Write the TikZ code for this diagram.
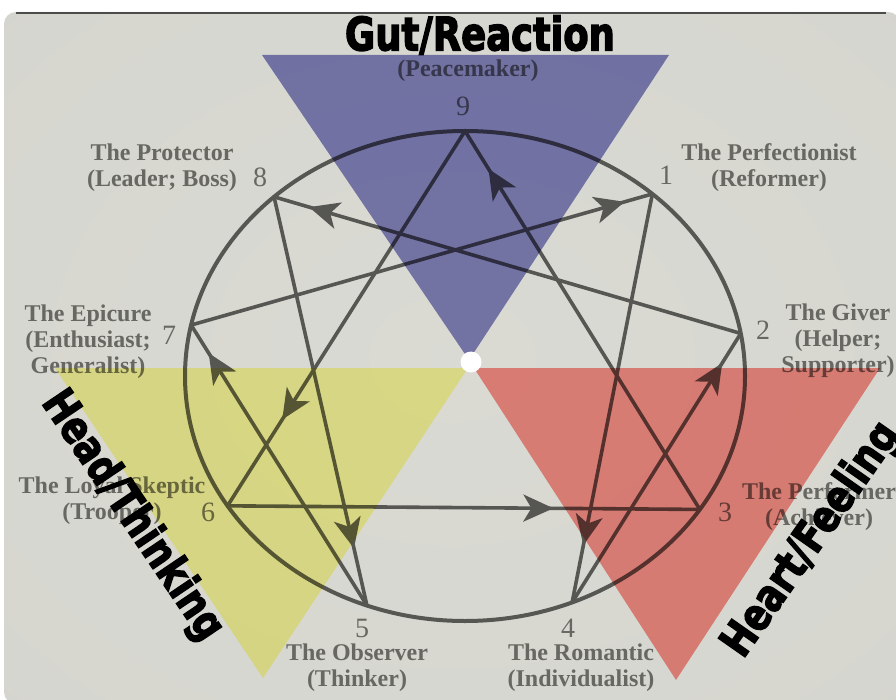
\documentclass[tikz,border=0pt]{standalone}
\usepackage{fontspec}
\setmainfont{Liberation Serif}
\newfontfamily\heavyfont{DejaVu Sans Condensed Bold}[FakeBold=3]
\usetikzlibrary{arrows.meta,decorations.markings}
\definecolor{txt}{RGB}{104,104,98}
\definecolor{ln}{RGB}{86,86,82}
\definecolor{bluec}{RGB}{134,134,198}
\definecolor{yelc}{RGB}{253,252,160}
\definecolor{redc}{RGB}{253,146,140}
\pgfdeclareradialshading{vig}{\pgfpoint{0bp}{0bp}}{rgb(0bp)=(0.855,0.855,0.83); rgb(34bp)=(0.84,0.84,0.815); rgb(44bp)=(0.79,0.78,0.76); rgb(49bp)=(0.70,0.68,0.66); rgb(53bp)=(0.60,0.58,0.56); rgb(71bp)=(0.45,0.43,0.41)}
\begin{document}
\begin{tikzpicture}[x=1pt,y=-1pt,
  lbl/.style={text=txt,font=\fontsize{24}{26}\selectfont\bfseries,align=center,inner sep=0pt},
  num/.style={text=txt,font=\fontsize{28}{28}\selectfont,inner sep=0pt},
  ring/.style={draw=ln,line width=4pt},
  hexln/.style={ln,line width=3.6pt,line cap=round},
  arr/.style={postaction={decorate},decoration={markings,mark=at position #1 with {\arrow{Stealth[length=30pt,width=27pt,inset=8pt]}}}},
  big/.style={inner sep=0pt,text=black},
  tri/.style={blend mode=multiply}]
\useasboundingbox (0,0) rectangle (896,700);
\fill[white] (0,0) rectangle (896,700);
\shade[shading=vig,rounded corners=12pt] (4,12) rectangle (900,704);
\draw[line width=2.5pt,color=black!70] (16,13) -- (886,13);

% labels
\node[lbl] (l8) at (162,168) {The Protector\\(Leader; Boss)};
\node[lbl] (l7) at (88,342) {The Epicure\\(Enthusiast;\\Generalist)};
\node[lbl] (l1) at (769,168) {The Perfectionist\\(Reformer)};
\node[lbl] (l2) at (838,341) {The Giver\\(Helper;\\Supporter)};
\node[lbl] (l6) at (112,501) {The Loyal Skeptic\\(Trooper)};
\node[lbl] (l3) at (819,507) {The Performer\\(Achiever)};
\node[lbl] (l5) at (357,668) {The Observer\\(Thinker)};
\node[lbl] (l4) at (581,668) {The Romantic\\(Individualist)};
\node[lbl] (l9) at (468,71) {(Peacemaker)};

\node[num] (n9) at (463,106) {9};
\node[num] (n1) at (666,175) {1};
\node[num] (n2) at (763,330) {2};
\node[num] (n3) at (725,512) {3};
\node[num] (n4) at (568,628) {4};
\node[num] (n5) at (362,628) {5};
\node[num] (n6) at (208,512) {6};
\node[num] (n7) at (169,335) {7};
\node[num] (n8) at (260,177) {8};

% points
\coordinate (p9) at (465,131);
\coordinate (p1) at ({465+280*sin(42)},{376-245*cos(42)});
\coordinate (p2) at ({465+280*sin(80)},{376-245*cos(80)});
\coordinate (p3) at ({465+280*sin(123)},{376-245*cos(123)});
\coordinate (p4) at ({465+280*sin(157.5)},{376-245*cos(157.5)});
\coordinate (p5) at ({465+280*sin(200.5)},{376-245*cos(200.5)});
\coordinate (p6) at ({465+280*sin(238)},{376-245*cos(238)});
\coordinate (p7) at ({465+280*sin(282)},{376-245*cos(282)});
\coordinate (p8) at ({465+280*sin(317)},{376-245*cos(317)});

\draw[ring] (465,376) ellipse [x radius=280pt, y radius=245pt];

\draw[hexln,arr=0.86] (p1) -- (p4);
\draw[hexln,arr=0.89] (p4) -- (p2);
\draw[hexln,arr=0.925] (p2) -- (p8);
\draw[hexln,arr=0.86] (p8) -- (p5);
\draw[hexln,arr=0.9] (p5) -- (p7);
\draw[hexln,arr=0.94] (p7) -- (p1);
\draw[hexln,arr=0.77] (p9) -- (p6);
\draw[hexln,arr=0.69] (p6) -- (p3);
\draw[hexln,arr=0.9] (p3) -- (p9);

% centres
\fill[bluec,tri] (262,55) -- (669,55) -- (469,360) -- cycle;
\fill[yelc,tri] (55,368) -- (468,368) -- (263,678) -- cycle;
\fill[redc,tri] (474,368) -- (880,368) -- (676,680) -- cycle;
\node[circle,fill=white,minimum size=21pt,inner sep=0pt] (dot) at (471,362) {};

\node[big] (gut) at (480,35) {\resizebox{270pt}{35pt}{\heavyfont Gut/Reaction}};
\node[big,rotate=-56] (head) at (132,516) {\resizebox{290pt}{34pt}{\heavyfont Head/Thinking}};
\node[big,rotate=55] (heart) at (812,540) {\resizebox{275pt}{34pt}{\heavyfont Heart/Feeling}};
\end{tikzpicture}
\end{document}
